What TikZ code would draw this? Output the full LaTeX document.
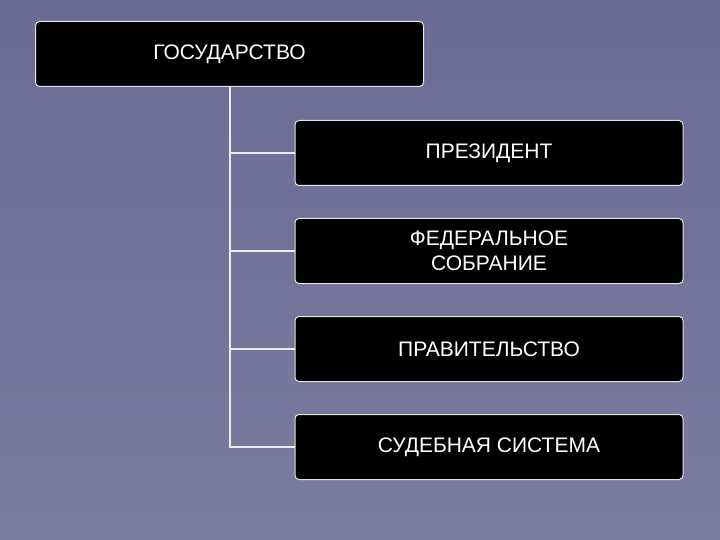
\documentclass[tikz,border=0pt]{standalone}
\usepackage{fontspec}
\setmainfont{Liberation Sans}
\begin{document}
\begin{tikzpicture}[x=1pt,y=-1pt,
  box/.style={draw=white!80!gray,fill=black,rounded corners=4pt,line width=1pt,minimum width=388pt,minimum height=65pt,text=white,font=\fontsize{21}{25}\selectfont,align=center},
  conn/.style={draw=white!85!gray,line width=1.2pt}]
\shade[top color=black!40!blue!30!gray!90,bottom color=gray!70!blue!60!white!80!black] (0,0) rectangle (720,540);
\useasboundingbox (0,0) rectangle (720,540);
\node[box] (g) at (229.5,54) {ГОСУДАРСТВО};
\node[box] (p) at (489,153) {ПРЕЗИДЕНТ};
\node[box] (f) at (489,251) {ФЕДЕРАЛЬНОЕ\\СОБРАНИЕ};
\node[box] (pr) at (489,349) {ПРАВИТЕЛЬСТВО};
\node[box] (s) at (489,447) {СУДЕБНАЯ СИСТЕМА};
\coordinate (t) at (230,86.5);
\draw[conn] (t) |- (s.west);
\draw[conn] (230,153) -- (p.west);
\draw[conn] (230,251) -- (f.west);
\draw[conn] (230,349) -- (pr.west);
\end{tikzpicture}
\end{document}
